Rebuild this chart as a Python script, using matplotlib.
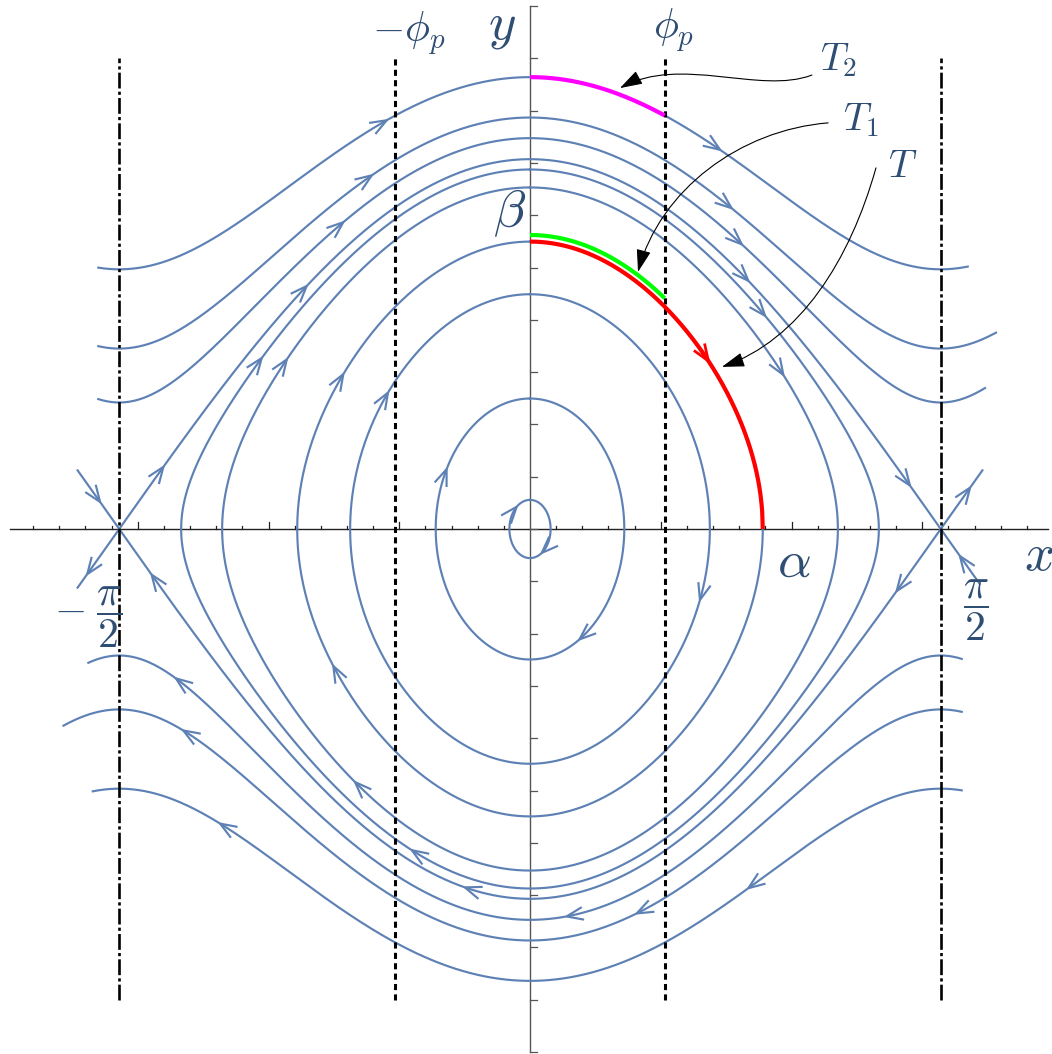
import numpy as np
import matplotlib.pyplot as plt
from matplotlib.path import Path
from matplotlib.patches import FancyArrowPatch

plt.rcParams['mathtext.fontset'] = 'cm'

# streamlines are level sets of H = y^2/2 + sin(x)^2  (x' = y, y' = -sin 2x)
# closed orbits (levels read from the y-intercepts / x-intercepts)
closed_E = [0.0062, 0.1245, 0.403, 0.604, 0.853, 0.945]
# arrows on closed orbits: (x, +1 upper / -1 lower)
closed_arrows = [
    [(-0.051, 1), (0.045, -1)],
    [(-0.319, 1), (0.189, -1)],
    [(-0.543, 1), (0.65, -1)],
    [(-0.714, 1), (-0.752, -1)],
    [(-0.930, 1), (0.969, 1), (-0.669, -1)],
    [(-1.026, 1), (0.899, 1), (-0.452, -1)],
]

# rotating (open) streamlines: level, side, x start, x end, arrow x's
rot_E = [1.493, 1.238, 1.117, 1.493, 1.238, 1.117]
rot_side = [1, 1, 1, -1, -1, -1]
rot_x0 = [-1.651, -1.651, -1.651, -1.672, -1.784, -1.689]
rot_x1 = [1.674, 1.782, 1.740, 1.651, 1.651, 1.651]
rot_arrows = [[-0.548, 0.727], [-0.605, 0.771], [-0.714, 0.810],
              [-1.185, 0.835], [-1.326, 0.408], [-1.354, 0.140]]

# separatrix pieces (H = 1)
sep_side = [1, -1, 1, -1, 1, -1]
sep_x0 = [-np.pi / 2, -np.pi / 2, -1.73, -1.73, np.pi / 2, np.pi / 2]
sep_x1 = [np.pi / 2, np.pi / 2, -np.pi / 2, -np.pi / 2, 1.73, 1.72]
sep_arrows = [[-1.402, -0.854, 0.835, 1.453], [-1.447, -0.249, 1.402],
              [-1.644], [-1.693], [1.683], [1.644]]

# highlighted pieces
phi_p = 0.515
E_T = 0.604
E_T1 = 0.632
E_T2 = 1.493
T_arrow_x = 0.682

blue = '#5e81b5'
txt = '#2f4e73'
S = 261.5

fig = plt.figure(figsize=(10.52, 10.54), dpi=100)
ax = fig.add_axes([0, 0, 1, 1])
ax.set_xlim(-530 / S, 522 / S)
ax.set_ylim((529 - 1054) / S, 529 / S)
ax.axis('off')


def yof(E, x, s):
    return s * np.sqrt(np.clip(2 * (E - np.sin(x) ** 2), 0, None))


def chevron(x, y, color, lw, L=0.068, ang=21):
    d = np.array([y, -np.sin(2 * x)])
    d = d / np.hypot(*d)
    b = -d
    pts = []
    for s in (1, -1):
        a = np.radians(s * ang)
        r = np.array([b[0] * np.cos(a) - b[1] * np.sin(a),
                      b[0] * np.sin(a) + b[1] * np.cos(a)])
        pts.append((x + L * r[0], y + L * r[1]))
    ax.plot([pts[0][0], x, pts[1][0]], [pts[0][1], y, pts[1][1]],
            color=color, lw=lw, solid_joinstyle='miter', solid_capstyle='butt', zorder=3)


# axes
ax.plot([-1.99, 1.98], [0, 0], color='#222222', lw=1.0, zorder=1)
ax.plot([0, 0], [-2.0, 2.0], color='#555555', lw=1.0, zorder=1)
for k in range(-19, 20):
    if k == 0:
        continue
    h = 0.026 if k % 5 == 0 else 0.013
    ax.plot([k / 10, k / 10], [0, h], color='#222222', lw=0.9, zorder=1)
for k in range(-10, 11):
    ax.plot([0, 0.026], [k / 5, k / 5], color='#555555', lw=0.9, zorder=1)

# closed orbits
for E, arrs in zip(closed_E, closed_arrows):
    a = np.arcsin(np.sqrt(E))
    th = np.linspace(0, 2 * np.pi, 1500)
    xs = a * np.sin(th)
    ys = np.sign(np.cos(th)) * np.sqrt(np.clip(2 * (E - np.sin(xs) ** 2), 0, None))
    ax.plot(xs, ys, color=blue, lw=1.55, zorder=2)
    for xa, s in arrs:
        chevron(xa, yof(E, xa, s), blue, 1.55)

# rotating streamlines
for E, s, x0, x1, arrs in zip(rot_E, rot_side, rot_x0, rot_x1, rot_arrows):
    xs = np.linspace(x0, x1, 600)
    ax.plot(xs, yof(E, xs, s), color=blue, lw=1.55, zorder=2)
    for xa in arrs:
        chevron(xa, yof(E, xa, s), blue, 1.55)

# separatrices
for s, x0, x1, arrs in zip(sep_side, sep_x0, sep_x1, sep_arrows):
    xs = np.linspace(x0, x1, 600)
    ax.plot(xs, yof(1.0, xs, s), color=blue, lw=1.55, zorder=2)
    for xa in arrs:
        chevron(xa, yof(1.0, xa, s), blue, 1.55)

# vertical guide lines
for xv in (-phi_p, phi_p):
    ax.plot([xv, xv], [-1.8, 1.8], color='black', lw=2.2, ls=(0, (2.0, 1.4)), zorder=3)
for xv in (-np.pi / 2, np.pi / 2):
    ax.plot([xv, xv], [-1.8, 1.8], color='black', lw=1.9, ls=(0, (6.0, 1.2, 1.2, 1.2)), zorder=3)

# highlighted arcs
xs = np.linspace(0, np.arcsin(np.sqrt(E_T)), 400)
ax.plot(xs, yof(E_T, xs, 1), color='#ff0000', lw=3.0, zorder=5, solid_capstyle='butt')
chevron(T_arrow_x, yof(E_T, T_arrow_x, 1), '#ff0000', 2.0)
xs = np.linspace(0, phi_p, 200)
ax.plot(xs, yof(E_T1, xs, 1), color='#00ff00', lw=3.0, zorder=5, solid_capstyle='butt')
ax.plot(xs, yof(E_T2, xs, 1), color='#ff00ff', lw=3.0, zorder=5, solid_capstyle='butt')

# callouts
callouts = [
    [(1.078, 1.736), (0.880, 1.660), (0.574, 1.813), (0.344, 1.686)],
    [(1.140, 1.553), (0.803, 1.526), (0.497, 1.296), (0.413, 0.983)],
    [(1.323, 1.381), (1.224, 1.029), (1.033, 0.723), (0.734, 0.620)],
]
for pts in callouts:
    p = Path(pts, [Path.MOVETO, Path.CURVE4, Path.CURVE4, Path.CURVE4])
    ax.add_patch(FancyArrowPatch(path=p, arrowstyle='-|>,head_length=1.0,head_width=0.32',
                                 mutation_scale=14, color='black', lw=0.8,
                                 shrinkA=0, shrinkB=0, zorder=6))

# labels
ax.text(-0.107, 1.927, r'$y$', fontsize=38, color=txt, ha='center', va='center')
ax.text(1.945, -0.099, r'$x$', fontsize=38, color=txt, ha='center', va='center')
ax.text(-0.463, 1.897, r'$-\phi_p$', fontsize=30, color=txt, ha='center', va='center')
ax.text(0.547, 1.908, r'$\phi_p$', fontsize=30, color=txt, ha='center', va='center')
ax.text(-0.080, 1.207, r'$\beta$', fontsize=38, color=txt, ha='center', va='center')
ax.text(1.011, -0.125, r'$\alpha$', fontsize=38, color=txt, ha='center', va='center')
ax.text(-1.690, -0.337, r'$-\;\dfrac{\pi}{2}$', fontsize=30, color=txt, ha='center', va='center')
ax.text(1.706, -0.310, r'$\dfrac{\pi}{2}$', fontsize=30, color=txt, ha='center', va='center')
ax.text(1.109, 1.755, r'$T_2$', fontsize=28, color=txt, ha='left', va='baseline')
ax.text(1.198, 1.526, r'$T_1$', fontsize=28, color=txt, ha='left', va='baseline')
ax.text(1.370, 1.347, r'$T$', fontsize=28, color=txt, ha='left', va='baseline')

fig.savefig('out.png', dpi=100)
